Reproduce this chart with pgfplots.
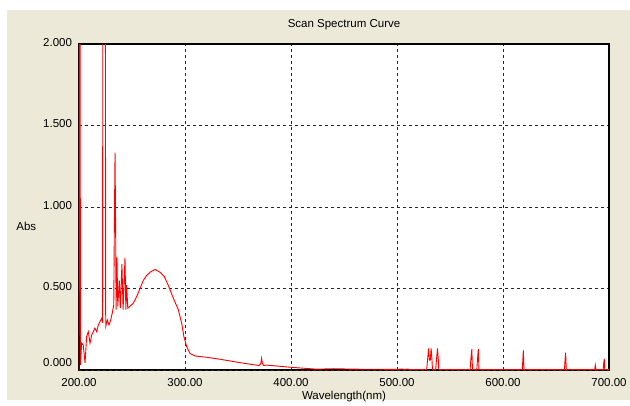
\documentclass[border=0pt]{standalone}
\usepackage{fontspec}
\setmainfont{Liberation Sans}
\usepackage{pgfplots}
\pgfplotsset{compat=1.18}
\definecolor{panel}{HTML}{ECE9D8}

\begin{document}
\fontsize{11.5}{13}\selectfont
\begin{tikzpicture}
\useasboundingbox (-79pt,-35pt) rectangle (551pt,370pt);
\fill[white] (-79pt,-35pt) rectangle (551pt,370pt);
\fill[panel] (-72pt,-30pt) rectangle (551pt,360pt);
\begin{axis}[
    at={(0pt,0pt)}, anchor=south west,
    scale only axis,
    width=530pt, height=326pt,
    xmin=200, xmax=700, ymin=0, ymax=2,
    xtick={200,300,400,500,600,700},
    ytick={0.5,1,1.5,2},
    extra y ticks={0},
    extra y tick style={yticklabel style={yshift=6pt}},
    major tick length=0pt,
    grid=major,
    grid style={black!85, dash pattern=on 3pt off 3pt, line width=0.8pt},
    axis line style={black, line width=1.2pt},
    axis background/.style={fill=white},
    xticklabel style={yshift=-4pt, /pgf/number format/fixed, /pgf/number format/fixed zerofill,
        /pgf/number format/precision=2, /pgf/number format/assume math mode=true},
    yticklabel style={xshift=-3pt, yshift=1.5pt, /pgf/number format/fixed, /pgf/number format/fixed zerofill,
        /pgf/number format/precision=3, /pgf/number format/assume math mode=true},
    title={Scan Spectrum Curve},
    title style={at={(axis description cs:0.5,1.0307)}, anchor=base},
    xlabel={Wavelength(nm)},
    xlabel style={at={(axis description cs:0.5,-0.092)}, anchor=base},
    ylabel={Abs},
    ylabel style={at={(axis description cs:-0.1258,0.4294)}, rotate=-90, anchor=base west},
]
\addplot[red, line width=0.9pt] coordinates {
(200,0.00) (200.3,3.0) (200.9,3.0) (201.4,0.03) (202.5,0.165) (204,0.153)
(205.7,0.043) (207.2,0.204) (208.8,0.235) (210.4,0.165) (212,0.215)
(213.5,0.235) (215,0.257) (216.7,0.235) (218.2,0.276) (219.8,0.296)
(221.4,0.317) (222.2,0.29) (222.6,3.0) (224.8,3.0) (225.2,0.266)
(226.7,0.307) (228.3,0.276) (229.9,0.307) (231.4,0.35) (232.8,0.40)
(233.3,0.84) (234,1.333) (234.6,0.84) (235.0,0.37) (235.8,0.69)
(236.6,0.39) (238,0.55) (239,0.38) (240.5,0.65) (241.6,0.37)
(243.4,0.69) (244.2,0.37) (245,0.52) (246,0.38) (248,0.39)
(251.2,0.41) (254.4,0.45) (257.5,0.50) (260.7,0.55) (263.8,0.58)
(267,0.60) (271.7,0.617) (276.4,0.60) (280.5,0.573) (284.2,0.52)
(289,0.44) (293.7,0.37) (296.9,0.286) (299,0.204) (301.6,0.143)
(304.7,0.102) (309.4,0.086) (320.5,0.078) (333,0.066) (352,0.045)
(366,0.031) (370,0.028) (371.5,0.04) (372.3,0.072) (373,0.04)
(374,0.028) (377,0.03) (399,0.017) (424,0.005) (440,0.008)
(460,0.005) (500,0.004) (505,0.006) (507,0.003) (510,0.006) (512,0.003)
(528,0.003) (528.8,0.06) (529.8,0.133) (530.6,0.06) (531.4,0.06)
(532.2,0.133) (533,0.06) (533.5,0.003)
(536.5,0.003) (537.2,0.06) (538.2,0.133) (539,0.06) (539.4,0.003)
(569,0.003) (569.6,0.06) (570.6,0.128) (571.2,0.003)
(575.3,0.003) (575.9,0.06) (576.7,0.128) (577.3,0.003)
(618.2,0.003) (618.7,0.06) (619.2,0.12) (619.8,0.003)
(658,0.003) (658.5,0.06) (659.1,0.106) (659.7,0.003)
(686.5,0.003) (687.1,0.03) (687.7,0.003)
(694.5,0.003) (695,0.04) (695.5,0.07) (696,0.003)
(700,0.003)
};
\end{axis}
\end{tikzpicture}
\end{document}
